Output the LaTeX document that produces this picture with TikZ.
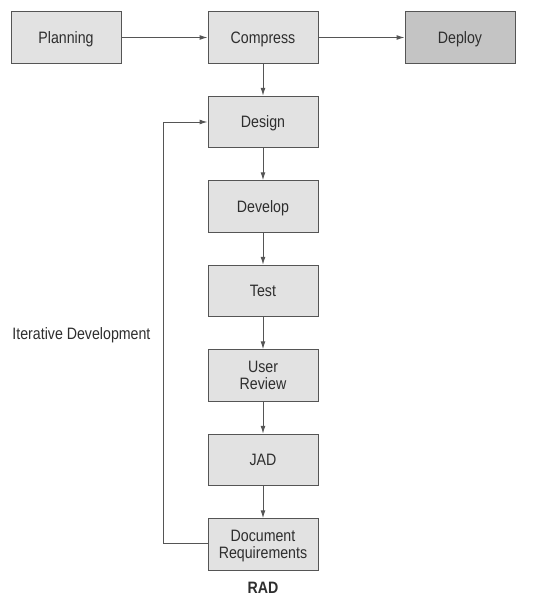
\documentclass[tikz,border=0pt]{standalone}
\usepackage{fontspec}
\setmainfont{Liberation Sans}[FakeStretch=0.86]
\usetikzlibrary{positioning, arrows.meta}

\definecolor{boxfill}{HTML}{E2E2E2}
\definecolor{deployfill}{HTML}{C4C4C4}
\definecolor{boxline}{HTML}{555555}
\definecolor{textgray}{HTML}{2E2E2E}

\begin{document}
\begin{tikzpicture}[
                x=1pt, y=1pt,
                node distance=32pt and 86pt,
                stage/.style={
                    rectangle,
                    draw=boxline,
                    fill=boxfill,
                    line width=1pt,
                    minimum width=110pt,
                    minimum height=51.5pt,
                    align=center,
                    inner sep=2pt,
                    text depth=0pt,
                    font=\fontsize{16.5}{17}\selectfont,
                    text=textgray
                },
                flow/.style={
                    draw=boxline,
                    line width=1pt,
                    -{Latex[length=8pt, width=5pt]}
                }
            ]
            \useasboundingbox (0,0) rectangle (535,-608);
            % top row
            \node[stage] (compress) at (263,-37.5) {Compress};
            \node[stage, left=of compress] (planning) {Planning};
            \node[stage, right=of compress, fill=deployfill] (deploy) {Deploy};
            % iteration column
            \node[stage, below=of compress] (design) {Design};
            \node[stage, below=of design] (develop) {Develop};
            \node[stage, below=of develop] (test) {Test};
            \node[stage, below=of test] (review) {User\\Review};
            \node[stage, below=of review] (jad) {JAD};
            \node[stage, below=of jad] (docreq) {Document\\Requirements};
            \node[below=8pt of docreq, font=\bfseries\fontsize{16.5}{17}\selectfont, text=textgray] (rad) {RAD};
            % loop back
            \coordinate (loopbottom) at (163,-543);
            \coordinate (looptop) at (163,-122);
            \node[anchor=east, font=\fontsize{16.5}{17}\selectfont, text=textgray] (iterlabel) at (154,-335) {Iterative Development};
            % connectors
            \draw[flow] (planning) -- (compress);
            \draw[flow] (compress) -- (deploy);
            \draw[flow] (compress) -- (design);
            \draw[flow] (design) -- (develop);
            \draw[flow] (develop) -- (test);
            \draw[flow] (test) -- (review);
            \draw[flow] (review) -- (jad);
            \draw[flow] (jad) -- (docreq);
            \draw[flow] (docreq.west |- loopbottom) -- (loopbottom) -- (looptop) -- (design.west |- looptop);
        \end{tikzpicture}
\end{document}
